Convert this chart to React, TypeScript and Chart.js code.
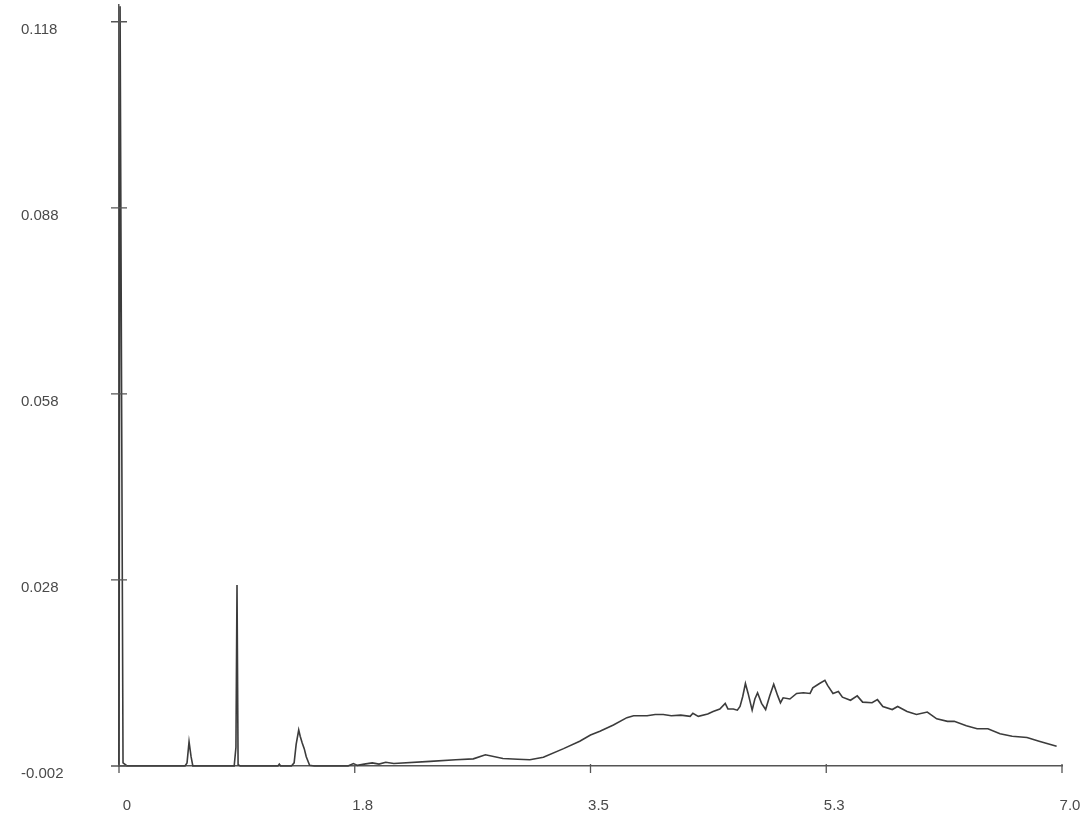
import React, { useEffect, useRef } from "react";
import { Chart, registerables } from "chart.js";

Chart.register(...registerables);

// Retention time (min)
const timeMin: number[] = [
  0, 0.008, 0.03, 0.06, 0.3, 0.49, 0.505, 0.52, 0.535, 0.548,
  0.855, 0.868, 0.876, 0.884, 0.9, 1.18, 1.19, 1.2, 1.28, 1.3,
  1.315, 1.334, 1.345, 1.36, 1.375, 1.39, 1.415, 1.45, 1.7, 1.74,
  1.77, 1.82, 1.88, 1.93, 1.98, 2.04, 2.31, 2.5, 2.63, 2.72,
  2.85, 2.96, 3.05, 3.15, 3.3, 3.42, 3.5, 3.57, 3.67, 3.77,
  3.82, 3.92, 3.98, 4.04, 4.1, 4.17, 4.24, 4.26, 4.3, 4.37,
  4.41, 4.46, 4.5, 4.52, 4.56, 4.59, 4.61, 4.63, 4.65, 4.67,
  4.7, 4.72, 4.74, 4.77, 4.8, 4.83, 4.86, 4.89, 4.91, 4.93,
  4.98, 5.03, 5.08, 5.13, 5.15, 5.2, 5.24, 5.26, 5.3, 5.34,
  5.37, 5.43, 5.48, 5.52, 5.59, 5.63, 5.67, 5.74, 5.78, 5.85,
  5.92, 6.0, 6.07, 6.15, 6.2, 6.29, 6.37, 6.45, 6.54, 6.63,
  6.74, 6.83, 6.96,
];

// Detector signal (AU)
const signal: number[] = [
  -0.002, 0.1205, -0.0015, -0.002, -0.002, -0.002, -0.0015, 0.0019, -0.0005, -0.002,
  -0.002, 0.001, 0.0272, -0.0018, -0.002, -0.002, -0.0017, -0.002, -0.002, -0.0015,
  0.0015, 0.0038, 0.0028, 0.0017, 0.0008, -0.0005, -0.0019, -0.002, -0.002, -0.0016,
  -0.0019, -0.0017, -0.0015, -0.0017, -0.0014, -0.0016, -0.00125, -0.001, -0.00085, -0.0002,
  -0.0008, -0.0009, -0.001, -0.0006, 0.0008, 0.002, 0.003, 0.0036, 0.0046, 0.0058,
  0.0061, 0.0061, 0.0063, 0.0063, 0.0061, 0.0062, 0.006, 0.0065, 0.006, 0.0064,
  0.0068, 0.0072, 0.0081, 0.0072, 0.0072, 0.007, 0.0076, 0.0092, 0.0113, 0.0097,
  0.007, 0.0088, 0.0098, 0.0081, 0.0071, 0.0093, 0.0112, 0.0093, 0.0082, 0.009,
  0.0088, 0.0097, 0.0098, 0.0097, 0.0106, 0.0113, 0.0118, 0.011, 0.0097, 0.01,
  0.0091, 0.0086, 0.0093, 0.0083, 0.0082, 0.0087, 0.0076, 0.0071, 0.0076, 0.0068,
  0.0063, 0.0067, 0.0056, 0.0052, 0.0052, 0.0045, 0.004, 0.004, 0.0032, 0.0028,
  0.0026, 0.002, 0.0012,
];

const xTickValues: number[] = [0, 1.75, 3.5, 5.25, 7.0];
const xTickLabels: string[] = ["0", "1.8", "3.5", "5.3", "7.0"];
const yTickValues: number[] = [-0.002, 0.028, 0.058, 0.088, 0.118];
const yTickLabels: string[] = ["-0.002", "0.028", "0.058", "0.088", "0.118"];

const AXIS_COLOR = "#555555";
const LINE_COLOR = "#3c3c3c";
const LABEL_COLOR = "#4a4a4a";

const tickMarks = {
  id: "tickMarks",
  afterDraw(chart: any) {
    const { ctx, scales } = chart;
    const x = scales.x;
    const y = scales.y;
    ctx.save();
    ctx.strokeStyle = AXIS_COLOR;
    ctx.lineWidth = 1.3;
    ctx.beginPath();
    yTickValues.forEach((v) => {
      const py = y.getPixelForValue(v);
      ctx.moveTo(x.left - 8, py);
      ctx.lineTo(x.left + 8, py);
    });
    xTickValues.forEach((v) => {
      const px = x.getPixelForValue(v);
      ctx.moveTo(px, y.bottom - 2);
      ctx.lineTo(px, y.bottom + 7);
    });
    ctx.stroke();
    ctx.restore();
  },
};

export default function App() {
  const canvasRef = useRef<HTMLCanvasElement | null>(null);

  useEffect(() => {
    if (!canvasRef.current) return;
    const points = timeMin.map((t, i) => ({ x: t, y: signal[i] }));
    const chart = new Chart(canvasRef.current, {
      type: "line",
      data: {
        datasets: [
          {
            data: points,
            borderColor: LINE_COLOR,
            borderWidth: 1.6,
            pointRadius: 0,
            tension: 0,
            fill: false,
            clip: false as any,
          },
        ],
      },
      options: {
        animation: false,
        responsive: false,
        maintainAspectRatio: false,
        layout: { padding: { left: 21, top: 5, right: 25, bottom: 0 } },
        plugins: {
          legend: { display: false },
          tooltip: { enabled: false },
          title: { display: false },
        },
        scales: {
          x: {
            type: "linear",
            min: 0,
            max: 7.0,
            grid: { display: false },
            border: { display: true, color: AXIS_COLOR, width: 1.5 },
            afterBuildTicks: (scale: any) => {
              scale.ticks = xTickValues.map((v) => ({ value: v }));
            },
            afterFit: (scale: any) => {
              scale.height = 47;
              scale.paddingLeft = 0;
              scale.paddingRight = 0;
            },
            ticks: {
              autoSkip: false,
              maxRotation: 0,
              padding: 23,
              labelOffset: 8,
              color: LABEL_COLOR,
              font: { family: "'Liberation Sans', Arial, sans-serif", size: 15 },
              callback: (value: any) => {
                const i = xTickValues.indexOf(Number(value));
                return i >= 0 ? xTickLabels[i] : "";
              },
            },
          },
          y: {
            type: "linear",
            min: -0.002,
            max: 0.1207,
            grid: { display: false },
            border: { display: true, color: AXIS_COLOR, width: 1.5 },
            afterBuildTicks: (scale: any) => {
              scale.ticks = yTickValues.map((v) => ({ value: v }));
            },
            afterFit: (scale: any) => {
              scale.width = 98;
              scale.paddingTop = 0;
              scale.paddingBottom = 0;
            },
            ticks: {
              autoSkip: false,
              crossAlign: "far",
              labelOffset: 8,
              color: LABEL_COLOR,
              font: { family: "'Liberation Sans', Arial, sans-serif", size: 15 },
              callback: (value: any) => {
                const i = yTickValues.findIndex((v) => Math.abs(v - Number(value)) < 1e-9);
                return i >= 0 ? yTickLabels[i] : "";
              },
            },
          },
        },
      },
      plugins: [tickMarks],
    });
    return () => chart.destroy();
  }, []);

  return (
    <div style={{ position: "fixed", left: 0, top: 0, width: 1087, height: 813, background: "#ffffff" }}>
      <canvas ref={canvasRef} width={1087} height={813} style={{ display: "block" }} />
    </div>
  );
}
